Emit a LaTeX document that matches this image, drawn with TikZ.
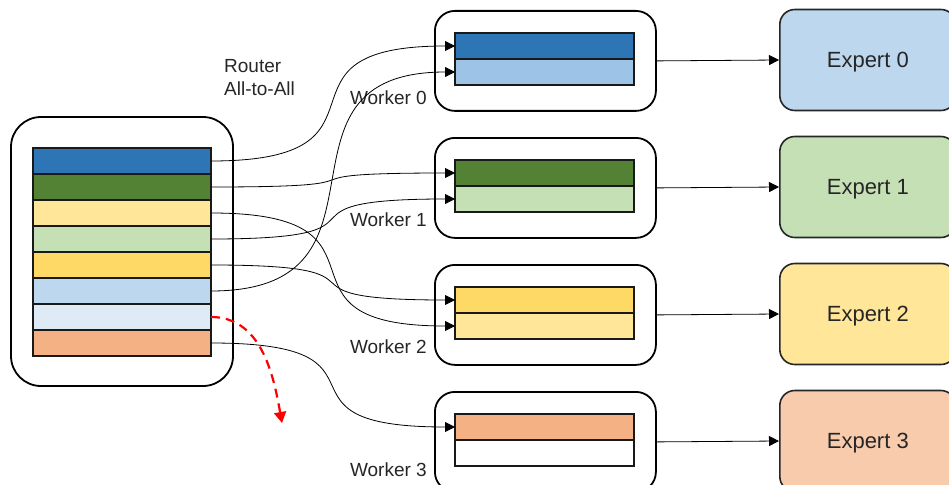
\documentclass[tikz,border=0pt]{standalone}
\usepackage{fontspec}
\setmainfont{Liberation Sans}
\usetikzlibrary{arrows.meta, calc, positioning}

\definecolor{blueD}{HTML}{2E75B6}
\definecolor{blueM}{HTML}{9DC3E6}
\definecolor{blueL}{HTML}{BDD7EE}
\definecolor{blueXL}{HTML}{DEEBF7}
\definecolor{greenD}{HTML}{548235}
\definecolor{greenL}{HTML}{C5E0B4}
\definecolor{yellowD}{HTML}{FFD966}
\definecolor{yellowL}{HTML}{FFE699}
\definecolor{orangeD}{HTML}{F4B183}
\definecolor{orangeL}{HTML}{F8CBAD}
\definecolor{txt}{HTML}{262626}

\begin{document}
\begin{tikzpicture}[x=1pt, y=-1pt,
  strip/.style={draw=black!90, line width=1.4pt, minimum width=178pt, minimum height=26pt, inner sep=0pt, outer sep=0pt, anchor=north west},
  wbox/.style={draw=black, line width=1.8pt, rounded corners=20pt, minimum width=221pt, minimum height=100pt, inner sep=0pt, anchor=north west},
  ebox/.style={draw=black!85, line width=1.6pt, rounded corners=15pt, minimum width=176pt, minimum height=101pt, inner sep=0pt, text depth=0pt, anchor=west, text=txt, font=\fontsize{22}{26}\selectfont},
  lbl/.style={text=txt, inner sep=0pt, font=\fontsize{19}{23}\selectfont},
  conn/.style={black, line width=0.8pt, -{Triangle[length=10pt, width=10pt]}},
  dropped/.style={red, line width=2.2pt, dash pattern=on 9pt off 6pt, -{Triangle[length=11pt, width=12pt]}}]
\useasboundingbox (0,0) rectangle (949,484);
\clip (0,0) rectangle (949,484);

% batch of tokens before the router
\draw[line width=1.8pt, rounded corners=30pt] (11,117) rectangle (233,386);
\foreach \c [count=\i] in {blueD, greenD, yellowL, greenL, yellowD, blueL, blueXL, orangeD}
  \node[strip, fill=\c] (s\i) at (33,{148+26*(\i-1)}) {};

\node[lbl, align=left, anchor=north west] (router) at (224,59) {Router\\All-to-All};

% workers and experts
\foreach \i/\y/\ca/\cb/\ce in {0/10/blueD/blueM/blueL, 1/137/greenD/greenL/greenL, 2/264/yellowD/yellowL/yellowL, 3/391/orangeD/white/orangeL} {
  \node[wbox] (w\i) at (434,\y) {};
  \node[strip, minimum width=179pt, fill=\ca] (w\i-a) at (455,\y+23) {};
  \node[strip, minimum width=179pt, fill=\cb] (w\i-b) at (455,\y+49) {};
  \node[ebox, fill=\ce] (e\i) at (779,\y+50) {Expert \i};
  \draw[conn] (w\i.east) -- (e\i.west);
}

\node[lbl, anchor=base east] (lw0) at (427,105) {Worker 0};
\node[lbl, anchor=base east] (lw1) at (427,226) {Worker 1};
\node[lbl, anchor=base east] (lw2) at (427,353) {Worker 2};
\node[lbl, anchor=base east] (lw3) at (427,476) {Worker 3};

% all-to-all dispatch
\foreach \s/\t in {1/w0-a, 2/w1-a, 3/w2-b, 4/w1-b, 5/w2-a, 6/w0-b, 8/w3-a}
  \draw[conn] (s\s.east) .. controls +(200,0) and +(-200,0) .. (\t.west);

% dropped token
\coordinate (drop) at (282,423);
\draw[dropped] (s7.east) to[out=0, in=100] (drop);
\end{tikzpicture}
\end{document}
